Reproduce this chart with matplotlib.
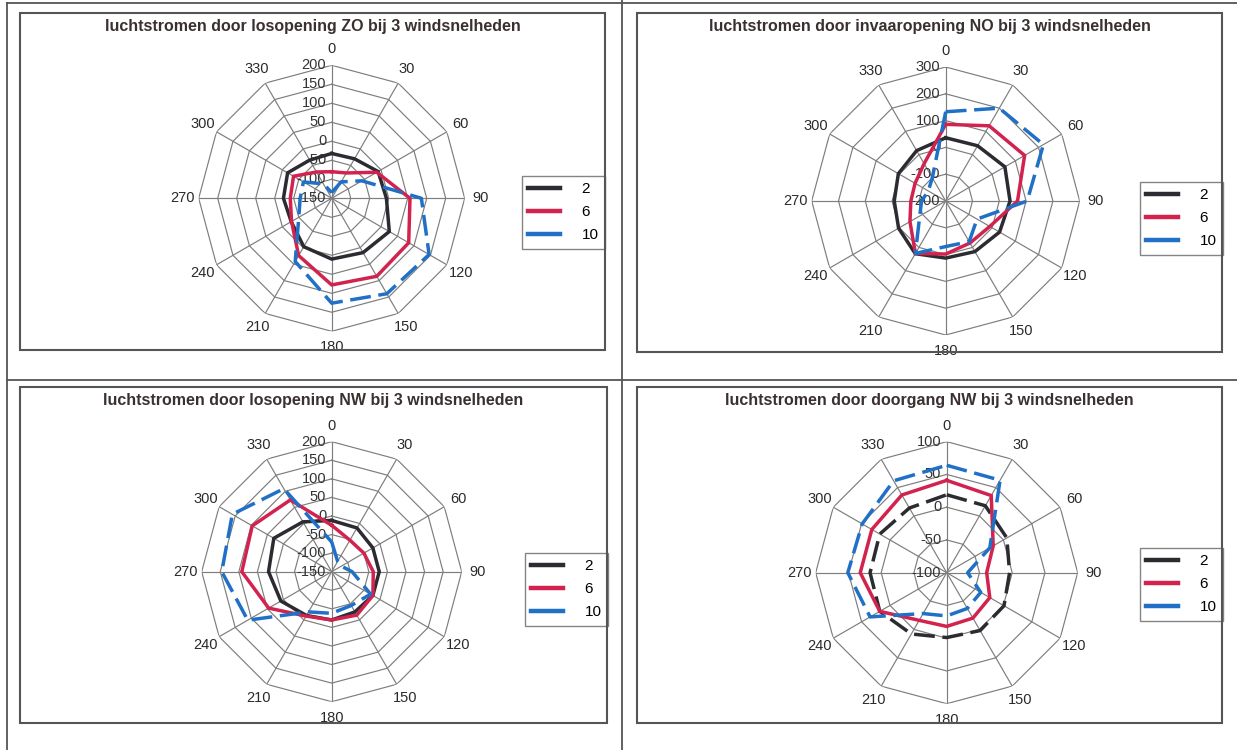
import numpy as np
import matplotlib.pyplot as plt
from matplotlib.lines import Line2D
from matplotlib.patches import Rectangle

plt.rcParams['font.family'] = ['Liberation Sans', 'DejaVu Sans']

# windrichtingen (graden) en windsnelheden
angles = [0, 30, 60, 90, 120, 150, 180, 210, 240, 270, 300, 330]
speeds = ['2', '6', '10']

# losopening ZO
zo_2 = [-32, -30, -9, -6, 25, 15, 10, -3, -27, -23, -16, -34]
zo_6 = [-80, -73, -13, 56, 84, 87, 78, 24, -28, -41, -34, -70]
zo_10 = [-135, -100, -58, 86, 146, 140, 126, 42, -50, -67, -64, -106]

# invaaropening NO
no_2 = [36, 38, 55, 40, 32, 18, 13, 27, 3, -8, 4, 17]
no_6 = [86, 124, 140, 68, -10, -19, -2, 26, -46, -70, -68, -39]
no_10 = [133, 200, 221, 104, -65, -25, -30, 26, -88, -110, -125, -100]

# losopening NW
nw_2 = [-12, -14, -22, -22, -22, -25, -20, -14, 8, 20, 30, 5]
nw_6 = [-25, -52, -50, -38, -22, -15, -20, -12, 46, 92, 97, 73]
nw_10 = [-70, -118, -120, -95, -29, -45, -38, -25, 111, 146, 159, 108]

# doorgang NW
dg_2 = [19, 18, 6, -4, 1, 2, -1, 8, 18, 17, 18, 14]
dg_6 = [41, 36, -18, -39, -24, -20, -18, -16, 18, 32, 32, 37]
dg_10 = [64, 63, -24, -68, -40, -37, -34, -28, 35, 51, 49, 62]

titles = ['luchtstromen door losopening ZO bij 3 windsnelheden',
          'luchtstromen door invaaropening NO bij 3 windsnelheden',
          'luchtstromen door losopening NW bij 3 windsnelheden',
          'luchtstromen door doorgang NW bij 3 windsnelheden']

W, H = 1237, 750
fig = plt.figure(figsize=(W / 100, H / 100), dpi=100)

BLACK = '#2b2b31'
RED = '#d2234f'
BLUE = '#1f70c6'
GRID = '#7d7d7d'
EDGE = '#555555'
DASH = (6, 2.2)


def fline(x0, y0, x1, y1, lw=1.3, c=EDGE):
    fig.add_artist(Line2D([x0 / W, x1 / W], [1 - y0 / H, 1 - y1 / H],
                          transform=fig.transFigure, lw=lw, color=c))


def fbox(x0, y0, x1, y1):
    fig.add_artist(Rectangle((x0 / W, 1 - y1 / H), (x1 - x0) / W, (y1 - y0) / H,
                             transform=fig.transFigure, fill=False,
                             lw=1.5, edgecolor=EDGE))


# pagina-lijnen en grafiekranden
fline(7, 3, W, 3)
fline(7, 3, 7, H)
fline(622, 0, 622, H)
fline(7, 380, W, 380)
boxes = [(20, 13, 605, 350), (637, 13, 1222, 352), (20, 387, 607, 723), (637, 387, 1222, 723)]
for b in boxes:
    fbox(*b)


def radar(box, cx, cy, R, rmin, rmax, step, title, ty, data, black_dashed, leg):
    ax = fig.add_axes([(cx - R) / W, 1 - (cy + R) / H, 2 * R / W, 2 * R / H],
                      projection='polar')
    ax.set_theta_zero_location('N')
    ax.set_theta_direction(-1)
    ax.set_ylim(rmin, rmax)
    ax.grid(False)
    ax.spines['polar'].set_visible(False)
    ax.patch.set_visible(False)
    ax.set_yticks([])
    th = np.deg2rad(angles)
    thc = np.append(th, th[0])
    # veelhoekig raster
    for v in np.arange(rmin + step, rmax + step / 2, step):
        ax.plot(thc, [v] * len(thc), color=GRID, lw=0.85, zorder=1)
    for t in th:
        ax.plot([t, t], [rmin, rmax], color=GRID, lw=0.85, zorder=1)
    for v in np.arange(rmin, rmax + step / 2, step):
        ax.annotate(f'{v:g}', xy=(0, v), xytext=(-4, 0), textcoords='offset points',
                    ha='right', va='center', fontsize=10.5, color='#333333', zorder=2)
    ax.set_xticks(th)
    ax.set_xticklabels([str(a) for a in angles], fontsize=10.5, color='#2a2a2a')
    ax.tick_params(axis='x', pad=1)

    colors = [BLACK, RED, BLUE]
    for i, vals in enumerate(data):
        ln, = ax.plot(thc, list(vals) + [vals[0]], color=colors[i], lw=2.5,
                      zorder=3, solid_joinstyle='miter')
        if i == 2 or (i == 0 and black_dashed):
            ln.set_dashes(DASH)
    fig.text((box[0] + box[2]) / 2 / W, 1 - ty / H, title, ha='center', va='center',
             fontsize=11.5, fontweight='bold', color='#3a3030')
    handles = [Line2D([], [], color=c, lw=3.2) for c in colors]
    ax.legend(handles, speeds, loc='upper left', bbox_to_anchor=(leg[0] / W, 1 - leg[1] / H),
              bbox_transform=fig.transFigure, frameon=True, fancybox=False,
              edgecolor='#666666', fontsize=11, handlelength=2.1, handletextpad=1.4,
              borderpad=0.4, labelspacing=0.6, borderaxespad=0)


radar(boxes[0], 331.7, 198.3, 133, -150, 200, 50, titles[0], 27, [zo_2, zo_6, zo_10], False, (522, 176))
radar(boxes[1], 945.7, 201.0, 134, -200, 300, 100, titles[1], 27, [no_2, no_6, no_10], False, (1140, 182))
radar(boxes[2], 331.7, 571.7, 130, -150, 200, 50, titles[2], 401, [nw_2, nw_6, nw_10], False, (525, 553))
radar(boxes[3], 946.7, 572.7, 131, -100, 100, 50, titles[3], 401, [dg_2, dg_6, dg_10], True, (1140, 548))

fig.savefig('out.png', dpi=100)
